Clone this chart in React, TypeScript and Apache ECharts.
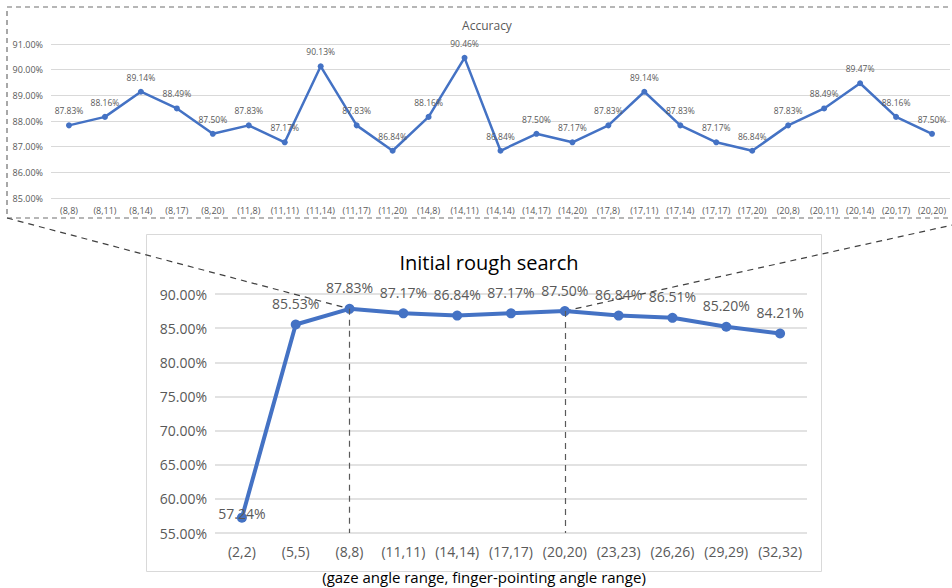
import React, { useEffect, useRef } from "react";
import * as echarts from "echarts";

const topCategories = [
  "(8,8)", "(8,11)", "(8,14)", "(8,17)", "(8,20)",
  "(11,8)", "(11,11)", "(11,14)", "(11,17)", "(11,20)",
  "(14,8)", "(14,11)", "(14,14)", "(14,17)", "(14,20)",
  "(17,8)", "(17,11)", "(17,14)", "(17,17)", "(17,20)",
  "(20,8)", "(20,11)", "(20,14)", "(20,17)", "(20,20)",
];
const topValues = [
  87.83, 88.16, 89.14, 88.49, 87.5,
  87.83, 87.17, 90.13, 87.83, 86.84,
  88.16, 90.46, 86.84, 87.5, 87.17,
  87.83, 89.14, 87.83, 87.17, 86.84,
  87.83, 88.49, 89.47, 88.16, 87.5,
];
const bottomCategories = [
  "(2,2)", "(5,5)", "(8,8)", "(11,11)", "(14,14)", "(17,17)",
  "(20,20)", "(23,23)", "(26,26)", "(29,29)", "(32,32)",
];
const bottomValues = [57.24, 85.53, 87.83, 87.17, 86.84, 87.17, 87.5, 86.84, 86.51, 85.2, 84.21];
const zoomStartIndex = 2; // (8,8)
const zoomEndIndex = 6; // (20,20)

const topTitle = "Accuracy";
const bottomTitle = "Initial rough search";
const xAxisName = "(gaze angle range, finger-pointing angle range)";

const BLUE = "#4472C4";
const GRAY = "#595959";
const GRID = "#d9d9d9";
const FONT = "'Liberation Sans Narrow', 'Open Sans', sans-serif";

const pct = (v: number) => v.toFixed(2) + "%";

export default function App() {
  const ref = useRef<HTMLDivElement>(null);
  useEffect(() => {
    document.body.style.margin = "0";
    const chart = echarts.init(ref.current!, null, { renderer: "svg" });
    const option: any = {
      animation: false,
      backgroundColor: "#ffffff",
      title: [
        {
          text: topTitle,
          left: 482,
          top: 14,
          textAlign: "center",
          textStyle: { fontFamily: "'Open Sans', sans-serif", fontSize: 12, fontWeight: "normal", color: GRAY },
        },
        {
          text: bottomTitle,
          left: 484,
          top: 247,
          textAlign: "center",
          textStyle: { fontFamily: "'Open Sans', sans-serif", fontSize: 20, fontWeight: "normal", color: "#000" },
        },
      ],
      grid: [
        { left: 51, top: 44, width: 899, height: 154, containLabel: false },
        { left: 215, top: 294, width: 592, height: 239, containLabel: false },
      ],
      xAxis: [
        {
          type: "category",
          gridIndex: 0,
          data: topCategories,
          boundaryGap: true,
          axisLine: { show: false },
          axisTick: { show: false },
          axisLabel: { color: GRAY, fontSize: 9, fontFamily: FONT, margin: 8, interval: 0 },
        },
        {
          type: "category",
          gridIndex: 1,
          data: bottomCategories,
          boundaryGap: true,
          axisLine: { show: false },
          axisTick: { show: false },
          axisLabel: { color: GRAY, fontSize: 14, fontFamily: FONT, margin: 11, interval: 0 },
        },
      ],
      yAxis: [
        {
          type: "value",
          gridIndex: 0,
          min: 85,
          max: 91,
          interval: 1,
          axisLine: { show: false },
          axisTick: { show: false },
          splitLine: { lineStyle: { color: GRID, width: 1 } },
          axisLabel: { color: GRAY, fontSize: 9, fontFamily: FONT, margin: 8, formatter: (v: number) => pct(v) },
        },
        {
          type: "value",
          gridIndex: 1,
          min: 55,
          max: 90,
          interval: 5,
          axisLine: { show: false },
          axisTick: { show: false },
          splitLine: { lineStyle: { color: GRID, width: 1.5 } },
          axisLabel: { color: GRAY, fontSize: 14, fontFamily: FONT, margin: 8, formatter: (v: number) => pct(v) },
        },
      ],
      series: [
        {
          type: "line",
          xAxisIndex: 0,
          yAxisIndex: 0,
          data: topValues,
          lineStyle: { color: BLUE, width: 2.5 },
          itemStyle: { color: BLUE },
          symbol: "circle",
          symbolSize: 6,
          label: {
            show: true,
            position: "top",
            distance: 7,
            color: GRAY,
            fontSize: 8.5,
            fontFamily: FONT,
            formatter: (p: any) => pct(p.value),
          },
        },
        {
          type: "line",
          xAxisIndex: 1,
          yAxisIndex: 1,
          data: bottomValues.map((v, i) =>
            i === 0 ? { value: v, label: { position: "top", distance: -8 } } : v
          ),
          lineStyle: { color: BLUE, width: 4 },
          itemStyle: { color: BLUE },
          symbol: "circle",
          symbolSize: 10,
          z: 3,
          label: {
            show: true,
            position: "top",
            distance: 9,
            color: GRAY,
            fontSize: 14,
            fontFamily: FONT,
            formatter: (p: any) => pct(p.value),
          },
          markLine: {
            silent: true,
            symbol: "none",
            label: { show: false },
            lineStyle: { color: GRAY, type: [6, 5], width: 1.2 },
            data: [zoomStartIndex, zoomEndIndex].map((i) => [
              { coord: [i, bottomValues[i]] },
              { coord: [i, 55] },
            ]),
          },
        },
      ],
    };
    chart.setOption(option);

    const pStart = chart.convertToPixel({ seriesIndex: 1 }, [zoomStartIndex, bottomValues[zoomStartIndex]]) as number[];
    const pEnd = chart.convertToPixel({ seriesIndex: 1 }, [zoomEndIndex, bottomValues[zoomEndIndex]]) as number[];
    const boxL = 7, boxT = 7, boxR = 984, boxB = 218;
    chart.setOption({
      graphic: [
        {
          type: "rect",
          id: "topBox",
          shape: { x: boxL, y: boxT, width: boxR - boxL, height: boxB - boxT },
          style: { fill: "none", stroke: "#6f6f6f", lineWidth: 1.2, lineDash: [5, 4] },
          silent: true,
        },
        {
          type: "rect",
          id: "bottomBox",
          shape: { x: 146.5, y: 234.5, width: 675, height: 337 },
          style: { fill: "none", stroke: GRID, lineWidth: 1 },
          silent: true,
        },
        {
          type: "line",
          id: "connL",
          shape: { x1: boxL, y1: boxB, x2: pStart[0], y2: pStart[1] },
          style: { stroke: "#404040", lineWidth: 1.2, lineDash: [6, 5] },
          silent: true,
        },
        {
          type: "line",
          id: "connR",
          shape: { x1: pEnd[0], y1: pEnd[1], x2: boxR, y2: boxB },
          style: { stroke: "#404040", lineWidth: 1.2, lineDash: [6, 5] },
          silent: true,
        },
        {
          type: "text",
          id: "xname",
          x: 484,
          y: 577,
          style: {
            text: xAxisName,
            fill: "#000",
            fontSize: 15,
            fontFamily: FONT,
            align: "center",
            verticalAlign: "middle",
          },
          silent: true,
        },
      ],
    });
    return () => chart.dispose();
  }, []);
  return <div ref={ref} style={{ width: 952, height: 588 }} />;
}
